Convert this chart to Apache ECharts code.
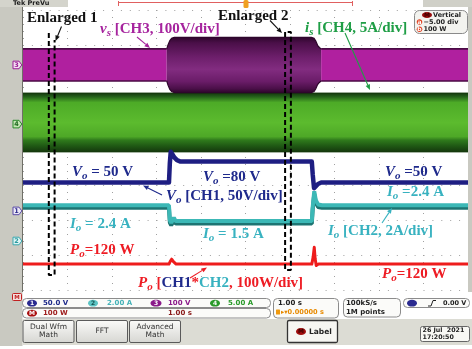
<!DOCTYPE html>
<html>
<head>
<meta charset="utf-8">
<title>Source and output waveforms</title>
<script src="https://cdn.jsdelivr.net/npm/echarts@6/dist/echarts.min.js"></script>
<style>
html, body { margin: 0; padding: 0; background: #ffffff; }
#scope { width: 472px; height: 349px; }
</style>
</head>
<body>
<div id="scope"></div>
<script>
// ---- Acquisition data (time in s, 1 s/div, trigger at t = 0) ----
// CH3: source voltage vs, envelope peak in V (100 V/div)
const vsTime = [-5, -1.77, -1.74, -1.70, -1.66, -1.60, 1.48, 1.54, 1.58, 1.62, 1.66, 1.70, 5];
const vsPeak = [46, 46, 58, 70, 76, 79, 79, 76, 68, 56, 50, 46, 46];
// CH4: source current is, envelope peak in A (5 A/div)
const isTime = [-5, 5];
const isPeak = [4.2, 4.2];
// CH1: output voltage Vo in V (50 V/div)
const voTime = [-5, -1.72, -1.70, -1.68, -1.64, -1.60, -1.54, -1.46, 1.49, 1.51, 1.54, 1.58, 1.63, 1.70, 5];
const voVals = [50, 50, 78, 94, 90, 86, 82, 80, 80, 62, 42, 44, 48, 50, 50];
// CH2: output current Io in A (2 A/div)
const ioTime = [-5, -1.72, -1.70, -1.67, -1.64, -1.61, -1.57, 1.49, 1.51, 1.545, 1.58, 1.63, 1.72, 5];
const ioVals = [2.4, 2.4, 1.55, 1.4, 1.5, 1.7, 1.5, 1.5, 2.3, 3.2, 2.7, 2.45, 2.4, 2.4];
// Math: output power Po = CH1*CH2 in W (100 W/div)
const poTime = [-5, -1.72, -1.69, -1.66, -1.62, -1.56, 1.49, 1.52, 1.545, 1.565, 1.59, 1.64, 5];
const poVals = [120, 120, 128, 134, 127, 120, 120, 140, 168, 135, 116, 120, 120];
// Load-step window and the two zoomed windows (s)
const stepWindow = [-1.77, 1.70];
const enlargedFrom = [-4.42, 0.89];
const enlargedTo = [-4.29, 1.02];
// Graticule: 10 x 8 divisions
const timeRange = [-5, 5];
const divRange = [-4, 4];

// ---- Channel vertical settings: units per division, zero level in divisions ----
const CH_VS = { scale: 100, offset: 2.43 };
const CH_IS = { scale: 5, offset: 0.786 };
const CH_VO = { scale: 50, offset: -1.93 };
const CH_IO = { scale: 2, offset: -2.78 };
const CH_PO = { scale: 100, offset: -4.46 };

const SERIF = '"Liberation Serif", "Times New Roman", serif';
const SANS = '"DejaVu Sans", "Liberation Sans", sans-serif';
const GRID = { left: 23, top: 10, width: 445, height: 280 };

function toDiv(ch, v) { return ch.offset + v / ch.scale; }

function segment(times, vals, from, to) {
  const t = [], v = [];
  times.forEach((x, i) => { if (x >= from && x <= to) { t.push(x); v.push(vals[i]); } });
  return [t, v];
}

function grad(stops) {
  return new echarts.graphic.LinearGradient(0, 0, 0, 1,
    stops.map(s => ({ offset: s[0], color: s[1] })));
}

// Dense AC waveform drawn as its envelope band
function bandSeries(name, times, peaks, ch, fill, edge, edgeW) {
  const data = times.map((t, i) => [t, toDiv(ch, peaks[i]), toDiv(ch, -peaks[i])]);
  return {
    type: 'custom', name, coordinateSystem: 'cartesian2d', silent: true, z: 2,
    encode: { x: 0, y: [1, 2] },
    data,
    renderItem(params, api) {
      if (params.dataIndexInside !== 0) return null;
      const top = data.map(d => api.coord([d[0], d[1]]));
      const bot = data.map(d => api.coord([d[0], d[2]]));
      return {
        type: 'group', children: [
          { type: 'polygon', shape: { points: top.concat(bot.slice().reverse()) }, style: { fill, stroke: null } },
          { type: 'polyline', shape: { points: top }, style: { stroke: edge, lineWidth: edgeW, fill: null } },
          { type: 'polyline', shape: { points: bot }, style: { stroke: edge, lineWidth: edgeW, fill: null } }
        ]
      };
    }
  };
}

function traceSeries(name, times, vals, ch, color, width, extra) {
  return Object.assign({
    type: 'line', name, silent: true, symbol: 'none', z: 3,
    data: times.map((t, i) => [t, toDiv(ch, vals[i])]),
    lineStyle: { color, width, cap: 'round', join: 'round' },
    itemStyle: { color }
  }, extra || {});
}

const [vsLT, vsLP] = segment(vsTime, vsPeak, timeRange[0], stepWindow[0]);
const [vsMT, vsMP] = segment(vsTime, vsPeak, stepWindow[0], stepWindow[1]);
const [vsRT, vsRP] = segment(vsTime, vsPeak, stepWindow[1], timeRange[1]);

const vsSideFill = '#b0209f';
const vsMidFill = grad([[0, '#2e062c'], [0.1, '#4a0f48'], [0.35, '#6c1e6a'], [0.58, '#822c80'], [0.8, '#6a1c68'], [0.93, '#4a0f48'], [1, '#2e062c']]);
const isFill = grad([[0, '#15380d'], [0.06, '#24601a'], [0.16, '#4dab27'], [0.5, '#5cbb2e'], [0.74, '#4ea827'], [0.8, '#2f7a1c'], [0.9, '#1f5814'], [1, '#15380d']]);

// Zoom-window frames, in divisions
const enlargedTop = [[3.34, 3.14], [3.37, 3.37]];
const enlargedBottom = [-3.57, -3.43];
const enlargedSeries = enlargedFrom.map((l, i) => {
  const r = enlargedTo[i];
  const pts = [[l, enlargedTop[i][0]], [l, enlargedBottom[i]], [r, enlargedBottom[i]], [r, enlargedTop[i][1]]];
  if (i === 1) pts.push([l, enlargedTop[i][0]]);
  return {
    type: 'line', silent: true, symbol: 'none', z: 4, data: pts,
    lineStyle: { color: '#000', width: 2, type: [5, 3] }
  };
});

const series = [
  bandSeries('is', isTime, isPeak, CH_IS, isFill, '#163c0e', 1),
  bandSeries('vsL', vsLT, vsLP, CH_VS, vsSideFill, '#4a0a45', 1.6),
  bandSeries('vsM', vsMT, vsMP, CH_VS, vsMidFill, '#2e062c', 1.2),
  bandSeries('vsR', vsRT, vsRP, CH_VS, vsSideFill, '#4a0a45', 1.6),
  traceSeries('Po', poTime, poVals, CH_PO, '#ee1c1c', 3),
  traceSeries('Io', ioTime, ioVals, CH_IO, '#3cb8b6', 4, {
    lineStyle: { color: '#3cb8b6', width: 4, shadowColor: '#1d7472', shadowOffsetY: 2.5, shadowBlur: 0 }
  }),
  traceSeries('Vo', voTime, voVals, CH_VO, '#1e1e82', 4.5)
].concat(enlargedSeries);

// ---- Screen furniture ----
const g = [];
function rect(x, y, w, h, fill, stroke, r, lw, z) {
  g.push({ type: 'rect', silent: true, z: z || 8, shape: { x, y, width: w, height: h, r: r || 0 },
    style: { fill: fill || 'none', stroke: stroke || null, lineWidth: lw || 1 } });
}
function line(x1, y1, x2, y2, stroke, lw, z) {
  g.push({ type: 'line', silent: true, z: z || 8, shape: { x1, y1, x2, y2 }, style: { stroke, lineWidth: lw || 1 } });
}
function txt(x, y, text, o) {
  o = o || {};
  g.push({ type: 'text', x, y, z: o.z || 12, silent: true,
    style: { text, fill: o.fill || '#222', fontSize: o.size || 7, fontFamily: o.family || SANS,
      fontWeight: o.weight || 'normal', fontStyle: 'normal', align: o.align || 'left', verticalAlign: 'middle' } });
}
function oval(cx, cy, rx, ry, fill, label, tfill) {
  g.push({ type: 'ellipse', silent: true, z: 11, shape: { cx, cy, rx, ry }, style: { fill } });
  if (label) txt(cx, cy + 0.3, label, { fill: tfill || '#fff', size: 6, weight: 'bold', align: 'center' });
}
function arrow(x1, y1, x2, y2, color) {
  const a = Math.atan2(y2 - y1, x2 - x1), L = 5.5, W = 2.3;
  const bx = x2 - L * Math.cos(a), by = y2 - L * Math.sin(a);
  line(x1, y1, bx, by, color, 1.1, 12);
  g.push({ type: 'polygon', silent: true, z: 12, shape: { points: [[x2, y2],
    [bx - W * Math.sin(a), by + W * Math.cos(a)], [bx + W * Math.sin(a), by - W * Math.cos(a)]] },
    style: { fill: color } });
}
function ann(x, y, tokens) {
  const rich = {}; let str = '';
  tokens.forEach((tk, i) => {
    const key = 'k' + i, kind = tk[1];
    rich[key] = {
      fill: tk[2], fontFamily: SERIF, fontWeight: 'bold',
      fontSize: kind === 's' ? 11 : 15,
      fontStyle: kind === 'n' ? 'normal' : 'italic',
      lineHeight: kind === 's' ? 20 : 18,
      verticalAlign: kind === 's' ? 'bottom' : 'middle'
    };
    str += '{' + key + '|' + tk[0] + '}';
  });
  g.push({ type: 'text', x, y, z: 13, silent: true, style: { text: str, rich, align: 'left', verticalAlign: 'middle' } });
}

// side and top frame
rect(0, 0, 22.5, 346, '#c9c9c1', null, 0, 1, 5);
line(22.5, 7, 22.5, 292, '#6f6f67', 1, 6);
rect(0, 0, 68, 7, '#d4d4cc', null, 0, 1, 6);
txt(13, 3.6, 'Tek PreVu', { size: 6.5, weight: 'bold', fill: '#1c1c1c' });
rect(468, 7, 4, 285, '#c9c9c1', null, 0, 1, 5);
rect(423, 0, 49, 7, '#d0d0c8', null, 0, 1, 5);
line(118, 2.5, 353, 2.5, '#e06060', 1, 6);
line(118.5, 1, 118.5, 6, '#e06060', 1, 6);
line(352.5, 1, 352.5, 6, '#e06060', 1, 6);
rect(243.5, 0, 5, 8, '#f0a020', null, 1.5, 1, 9);

// vertical readout box (math channel)
rect(414.5, 10.5, 53, 23, '#f3f3ef', '#8a8a8a', 5, 1, 10);
oval(427, 15, 5, 3, '#9a0c0c', 'M', '#3a0000');
txt(433, 15.5, 'Vertical', { size: 6.5, weight: 'bold' });
oval(419.5, 22, 2.8, 2.8, '#e04020', 'a');
txt(423.5, 22.3, '\u22125.00 div', { size: 6.5, weight: 'bold' });
oval(419.5, 29.3, 2.8, 2.8, '#e04020', 'b');
txt(423.5, 29.5, '100 W', { size: 6.5, weight: 'bold' });

// math ground indicator below the graticule
rect(12.5, 293.5, 9, 7, '#f6dede', '#c02020', 1, 1, 10);
txt(17, 297.3, 'M', { size: 5.5, weight: 'bold', fill: '#c02020', align: 'center' });

// channel readout rows
rect(22.5, 298.5, 248, 9, '#fbfbf9', '#8c8c8c', 4, 1, 9);
rect(22.5, 308.5, 248, 9.5, '#fbfbf9', '#8c8c8c', 4, 1, 9);
rect(273.5, 298.5, 65, 19.5, '#fbfbf9', '#8c8c8c', 4, 1, 9);
rect(343.5, 298.5, 57, 18.5, '#fbfbf9', '#8c8c8c', 4, 1, 9);
rect(403.5, 298.5, 66, 9, '#fbfbf9', '#8c8c8c', 4, 1, 9);
oval(32, 303.2, 5, 3.4, '#2a2a90', '1');
txt(43, 303.4, '50.0 V', { fill: '#1e2a8a', weight: 'bold' });
oval(93, 303.2, 5, 3.4, '#5cc4c4', '2', '#14504f');
txt(107, 303.4, '2.00 A', { fill: '#44b2b8', weight: 'bold' });
oval(156, 303.2, 5.5, 3.4, '#8a1a8a', '3');
txt(168, 303.4, '100 V', { fill: '#8a1a8a', weight: 'bold' });
oval(215, 303.2, 5, 3.4, '#2a9a2a', '4');
txt(228, 303.4, '5.00 A', { fill: '#2a9a2a', weight: 'bold' });
oval(32, 313.2, 5, 3.4, '#a80e0e', 'M');
txt(43, 313.4, '100 W', { fill: '#a02020', weight: 'bold' });
txt(168, 313.4, '1.00 s', { fill: '#8a1a1a', weight: 'bold' });
txt(278, 303.4, '1.00 s', { weight: 'bold' });
rect(276, 309.5, 4, 5, '#f09a10', null, 0.5, 1, 10);
txt(281, 312.3, '\u25b8\u25be0.00000 s', { fill: '#e88a00', weight: 'bold', size: 6.6 });
txt(346, 303.2, '100kS/s', { weight: 'bold' });
txt(346, 312.5, '1M points', { weight: 'bold' });
oval(412, 303.2, 5, 3.4, '#2a2a90', null);
g.push({ type: 'polyline', silent: true, z: 11, shape: { points: [[428, 306], [431, 306], [433, 300.5], [436, 300.5]] }, style: { stroke: '#222', lineWidth: 1, fill: null } });
txt(443, 303.4, '0.00 V', { weight: 'bold', size: 6.5 });

// soft-key bar
rect(22.5, 319, 449.5, 26, '#dcdcd4', null, 0, 1, 8);
[[22.5, 'Dual Wfm', 'Math'], [76, 'FFT', null], [129, 'Advanced', 'Math']].forEach(b => {
  g.push({ type: 'rect', silent: true, z: 9, shape: { x: b[0] + 0.5, y: 320.5, width: 51, height: 22, r: 1.5 },
    style: { fill: grad([[0, '#fbfbf9'], [1, '#d6d6d2']]), stroke: '#5a5a5a', lineWidth: 1 } });
  const cx = b[0] + 26;
  if (b[2]) { txt(cx, 327.5, b[1], { align: 'center', size: 7.5, fill: '#333' }); txt(cx, 335.5, b[2], { align: 'center', size: 7.5, fill: '#333' }); }
  else txt(cx, 331.5, b[1], { align: 'center', size: 7.5, fill: '#333' });
});
rect(287.5, 320.5, 50, 22, '#f6f6f2', '#333333', 1.5, 1.3, 9);
oval(301, 331.5, 5, 3.6, '#a00c0c', 'M', '#3a0000');
txt(309, 331.7, 'Label', { size: 7.5, fill: '#222', weight: 'bold' });
rect(420.5, 326.5, 49, 15, '#f8f8f4', '#666666', 2, 1, 9);
txt(422.5, 330.6, '26 Jul  2021', { weight: 'bold', size: 6.3 });
txt(422.5, 337.6, '17:20:50', { weight: 'bold', size: 6.3 });

// ---- Annotations ----
const NAVY = '#1f2a8c', TEAL = '#38b2c0', RED = '#ee1c24', PURPLE = '#a6249e', GREEN = '#1f9e46';
ann(27, 18.5, [['Enlarged 1', 'n', '#111']]);
ann(218, 16.5, [['Enlarged 2', 'n', '#111']]);
arrow(61.5, 26.5, 55.5, 41, '#111');
arrow(270, 20.5, 282, 33, '#111');
ann(100, 29, [['v', 'i', PURPLE], ['s', 's', PURPLE], [' [CH3, 100V/div]', 'n', PURPLE]]);
arrow(137, 37, 150, 48, PURPLE);
ann(305, 28, [['i', 'i', GREEN], ['s', 's', GREEN], [' [CH4, 5A/div]', 'n', GREEN]]);
arrow(345, 33, 370, 90, GREEN);
ann(72, 172, [['V', 'i', NAVY], ['o', 's', NAVY], [' = 50 V', 'n', NAVY]]);
ann(203, 177, [['V', 'i', NAVY], ['o', 's', NAVY], [' =80 V', 'n', NAVY]]);
ann(166, 196, [['V', 'i', NAVY], ['o', 's', NAVY], [' [CH1, 50V/div]', 'n', NAVY]]);
arrow(162, 195, 143, 185.5, NAVY);
ann(385, 172, [['V', 'i', NAVY], ['o', 's', NAVY], [' =50 V', 'n', NAVY]]);
ann(387, 192, [['I', 'i', TEAL], ['o', 's', TEAL], [' =2.4 A', 'n', TEAL]]);
ann(70, 224, [['I', 'i', TEAL], ['o', 's', TEAL], [' = 2.4 A', 'n', TEAL]]);
ann(203, 234, [['I', 'i', TEAL], ['o', 's', TEAL], [' = 1.5 A', 'n', TEAL]]);
ann(328, 231, [['I', 'i', TEAL], ['o', 's', TEAL], [' [CH2, 2A/div]', 'n', TEAL]]);
arrow(382, 223, 392, 208, TEAL);
ann(70, 250, [['P', 'i', RED], ['o', 's', RED], ['=120 W', 'n', RED]]);
ann(382, 274, [['P', 'i', RED], ['o', 's', RED], ['=120 W', 'n', RED]]);
ann(138, 283, [['P', 'i', RED], ['o', 's', RED], [' [', 'n', RED], ['CH1', 'n', NAVY], ['*', 'n', RED],
  ['CH2', 'n', TEAL], [', 100W/div]', 'n', RED]]);
arrow(190, 278, 207, 267.5, RED);

const chart = echarts.init(document.getElementById('scope'), null, { renderer: 'canvas' });
const hiddenAxis = {
  type: 'value', axisLine: { show: false }, axisTick: { show: false }, axisLabel: { show: false }
};
chart.setOption({
  animation: false,
  backgroundColor: '#ffffff',
  grid: Object.assign({ containLabel: false }, GRID),
  xAxis: Object.assign({}, hiddenAxis, {
    min: timeRange[0], max: timeRange[1], interval: 1,
    splitLine: { show: true, lineStyle: { color: '#a0a0a0', width: 1, type: [1, 6] } }
  }),
  yAxis: Object.assign({}, hiddenAxis, {
    min: divRange[0], max: divRange[1], interval: 1,
    splitLine: { show: true, lineStyle: { color: '#a0a0a0', width: 1, type: [1, 7.9] } }
  }),
  series,
  graphic: { elements: g }
});

// Channel ground tags on the left bezel, placed through the grid's scale
const tags = [
  { label: '3', div: 2.43, stroke: '#9a1c96', fill: '#f4e0f2', text: '#9a1c96' },
  { label: '4', div: 0.74, stroke: '#2a8a2a', fill: '#c4e6b4', text: '#1e6a1e' },
  { label: '1', div: -1.74, stroke: '#5a4aa8', fill: '#ece8f6', text: '#2a2a8a' },
  { label: '2', div: -2.6, stroke: '#3aa8b0', fill: '#e0f4f4', text: '#2a9aa0' }
];
tags.forEach(t => {
  const y = chart.convertToPixel({ gridIndex: 0 }, [timeRange[0], t.div])[1];
  g.push({ type: 'polygon', silent: true, z: 10,
    shape: { points: [[13, y - 3.8], [19, y - 3.8], [21.8, y], [19, y + 3.8], [13, y + 3.8]] },
    style: { fill: t.fill, stroke: t.stroke, lineWidth: 1 } });
  txt(16.6, y + 0.3, t.label, { size: 6.5, weight: 'bold', fill: t.text, align: 'center' });
});
chart.setOption({ graphic: { elements: g } }, { replaceMerge: ['graphic'] });
</script>
</body>
</html>
